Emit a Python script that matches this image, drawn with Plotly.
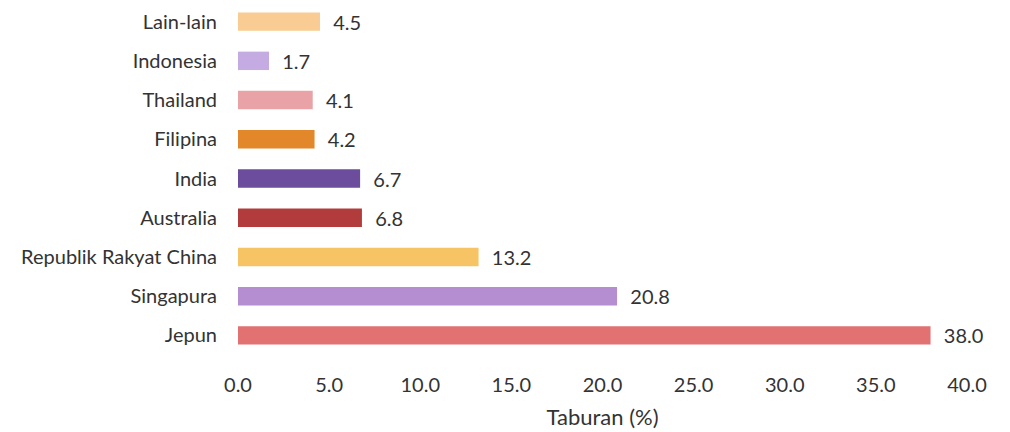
import plotly.graph_objects as go

categories = ["Jepun", "Singapura", "Republik Rakyat China", "Australia", "India",
              "Filipina", "Thailand", "Indonesia", "Lain-lain"]
values = [38.0, 20.8, 13.2, 6.8, 6.7, 4.2, 4.1, 1.7, 4.5]
colors = ["#e27272", "#b48ed0", "#f6c365", "#b23c3c", "#6c4c9c",
          "#e2882a", "#e9a2a6", "#c4ace2", "#f8cc92"]
tick_vals = [0, 5, 10, 15, 20, 25, 30, 35, 40]
tick_text = ["0.0", "5.0", "10.0", "15.0", "20.0", "25.0", "30.0", "35.0", "40.0"]

FONT = "Lato"

fig = go.Figure(go.Bar(
    x=values, y=categories, orientation="h",
    marker=dict(color=colors, line=dict(width=0)),
    width=0.47,
    text=["  " + f"{v:.1f}" for v in values],
    textposition="outside",
    constraintext="none",
    textfont=dict(family=FONT, size=20, color="#333333"),
    cliponaxis=False,
))

fig.update_layout(
    width=1010, height=432,
    margin=dict(l=238, r=43, t=2, b=77),
    paper_bgcolor="white", plot_bgcolor="white",
    font=dict(family=FONT, size=20, color="#333333"),
    showlegend=False,
    xaxis=dict(range=[0, 40], tickvals=tick_vals, ticktext=tick_text,
               showgrid=False, zeroline=False, showline=False,
               ticks="", ticklabelstandoff=16,
               tickfont=dict(family=FONT, size=20, color="#333333"),
               title=dict(text="Taburan (%)", standoff=14,
                          font=dict(family=FONT, size=22, color="#333333"))),
    yaxis=dict(categoryorder="array", categoryarray=categories,
               range=[-0.5, 8.5], showgrid=False, zeroline=False,
               showline=False, ticks="", ticklabelstandoff=20,
               tickfont=dict(family=FONT, size=20, color="#333333")),
)

fig.write_html("out.html", config={"displayModeBar": False},
               post_script="document.body.style.margin='0';")
